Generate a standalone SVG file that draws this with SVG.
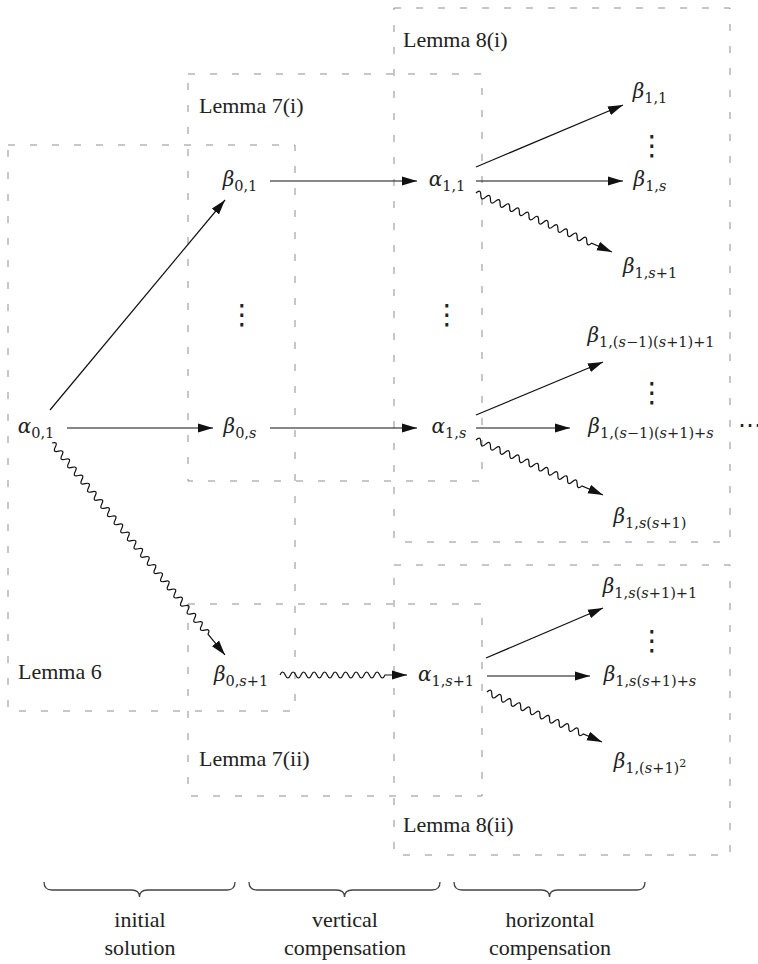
<svg xmlns="http://www.w3.org/2000/svg" width="758" height="964" viewBox="0 0 758 964">
<style>
.box{fill:none;stroke:#8f8f8f;stroke-width:1;stroke-dasharray:7 15}
.lbl{font-family:'Liberation Serif','Times New Roman',serif;font-size:22px;fill:#222}
.m{font-family:'DejaVu Serif',serif;font-size:20px;fill:#222;text-anchor:middle}
.g{font-style:italic}
.sub{font-size:14.5px}
.sup{font-size:11px}
.i{font-style:italic}
.dots{font-family:'DejaVu Sans',sans-serif;font-size:28px;fill:#222;text-anchor:middle}
.hd{font-family:'DejaVu Sans',sans-serif;font-size:24px;fill:#222}
.ar{fill:none;stroke:#111;stroke-width:1.2;marker-end:url(#ah)}
.br{fill:none;stroke:#444;stroke-width:1.3}
.cap{font-family:'Liberation Serif','Times New Roman',serif;font-size:22px;fill:#222;text-anchor:middle}
</style>
<defs>
<marker id="ah" markerWidth="15" markerHeight="10" refX="15" refY="5" orient="auto" markerUnits="userSpaceOnUse"><path d="M0,0.4 L15,5 L0,9.6 Z" fill="#111"/></marker>
</defs>
<rect width="758" height="964" fill="#fff"/>
<g id="boxes">
<g id="box-lemma6"><rect class="box" x="8" y="145" width="287" height="566"/><text class="lbl" x="18" y="679">Lemma 6</text></g>
<g id="box-lemma7i"><rect class="box" x="188" y="74" width="294" height="407"/><text class="lbl" x="199" y="113">Lemma 7(i)</text></g>
<g id="box-lemma7ii"><rect class="box" x="188" y="604" width="294" height="192"/><text class="lbl" x="199" y="766">Lemma 7(ii)</text></g>
<g id="box-lemma8i"><rect class="box" x="394" y="8" width="336" height="534"/><text class="lbl" x="403" y="47">Lemma 8(i)</text></g>
<g id="box-lemma8ii"><rect class="box" x="394" y="565" width="336" height="290"/><text class="lbl" x="403" y="832">Lemma 8(ii)</text></g>
</g>
<g id="connectors">
<path class="ar" d="M50,410 L225,200"/>
<path class="ar" d="M67,428 L213,428"/>
<path class="ar" d="M270,181 L417,181"/>
<path class="ar" d="M270,428 L417,428"/>
<path class="ar" d="M476,167 L623,105"/>
<path class="ar" d="M476,181 L623,181"/>
<path class="ar" d="M476,415 L603,362"/>
<path class="ar" d="M476,428 L570,428"/>
<path class="ar" d="M486,658 L603,608"/>
<path class="ar" d="M487,676 L590,676"/>
<path class="ar" transform="translate(52,443) rotate(50.79)" d="M0,0 q2.625,-6 5.25,0 t5.25,0 t5.25,0 t5.25,0 t5.25,0 t5.25,0 t5.25,0 t5.25,0 t5.25,0 t5.25,0 t5.25,0 t5.25,0 t5.25,0 t5.25,0 t5.25,0 t5.25,0 t5.25,0 t5.25,0 t5.25,0 t5.25,0 t5.25,0 t5.25,0 t5.25,0 t5.25,0 t5.25,0 t5.25,0 t5.25,0 t5.25,0 t5.25,0 t5.25,0 t5.25,0 t5.25,0 t5.25,0 t5.25,0 t5.25,0 t5.25,0 t5.25,0 t5.25,0 t5.25,0 t5.25,0 t5.25,0 t5.25,0 t5.25,0 t5.25,0 t5.25,0 t5.25,0 t5.25,0 L273.6,0"/>
<path class="ar" transform="translate(280,675)" d="M0,0 q2.625,-6 5.25,0 t5.25,0 t5.25,0 t5.25,0 t5.25,0 t5.25,0 t5.25,0 t5.25,0 t5.25,0 t5.25,0 t5.25,0 t5.25,0 t5.25,0 t5.25,0 t5.25,0 t5.25,0 t5.25,0 t5.25,0 t5.25,0 t5.25,0 L127,0"/>
<path class="ar" transform="translate(476,193) rotate(23.45)" d="M0,0 q2.625,-6 5.25,0 t5.25,0 t5.25,0 t5.25,0 t5.25,0 t5.25,0 t5.25,0 t5.25,0 t5.25,0 t5.25,0 t5.25,0 t5.25,0 t5.25,0 t5.25,0 t5.25,0 t5.25,0 t5.25,0 t5.25,0 t5.25,0 t5.25,0 t5.25,0 t5.25,0 t5.25,0 t5.25,0 L148.2,0"/>
<path class="ar" transform="translate(476,440) rotate(23.42)" d="M0,0 q2.625,-6 5.25,0 t5.25,0 t5.25,0 t5.25,0 t5.25,0 t5.25,0 t5.25,0 t5.25,0 t5.25,0 t5.25,0 t5.25,0 t5.25,0 t5.25,0 t5.25,0 t5.25,0 t5.25,0 t5.25,0 t5.25,0 t5.25,0 t5.25,0 t5.25,0 t5.25,0 L138.4,0"/>
<path class="ar" transform="translate(487,692) rotate(23.5)" d="M0,0 q2.625,-6 5.25,0 t5.25,0 t5.25,0 t5.25,0 t5.25,0 t5.25,0 t5.25,0 t5.25,0 t5.25,0 t5.25,0 t5.25,0 t5.25,0 t5.25,0 t5.25,0 t5.25,0 t5.25,0 t5.25,0 t5.25,0 t5.25,0 t5.25,0 L125.4,0"/>
</g>
<g id="nodes">
<g id="n-a01"><text class="m" x="36" y="433"><tspan class="g">α</tspan><tspan class="sub" dy="5">0,1</tspan></text></g>
<g id="n-b01"><text class="m" x="240" y="186"><tspan class="g">β</tspan><tspan class="sub" dy="5">0,1</tspan></text></g>
<g id="n-b0s"><text class="m" x="240" y="433"><tspan class="g">β</tspan><tspan class="sub" dy="5">0,<tspan class="i">s</tspan></tspan></text></g>
<g id="n-b0s1"><text class="m" x="241" y="681"><tspan class="g">β</tspan><tspan class="sub" dy="5">0,<tspan class="i">s</tspan>+1</tspan></text></g>
<g id="n-a11"><text class="m" x="447" y="186"><tspan class="g">α</tspan><tspan class="sub" dy="5">1,1</tspan></text></g>
<g id="n-a1s"><text class="m" x="449" y="433"><tspan class="g">α</tspan><tspan class="sub" dy="5">1,<tspan class="i">s</tspan></tspan></text></g>
<g id="n-a1s1"><text class="m" x="446" y="681"><tspan class="g">α</tspan><tspan class="sub" dy="5">1,<tspan class="i">s</tspan>+1</tspan></text></g>
<g id="n-b11"><text class="m" x="650" y="98"><tspan class="g">β</tspan><tspan class="sub" dy="5">1,1</tspan></text></g>
<g id="n-b1s"><text class="m" x="650" y="186"><tspan class="g">β</tspan><tspan class="sub" dy="5">1,<tspan class="i">s</tspan></tspan></text></g>
<g id="n-b1s1"><text class="m" x="650" y="273"><tspan class="g">β</tspan><tspan class="sub" dy="5">1,<tspan class="i">s</tspan>+1</tspan></text></g>
<g id="n-b1a"><text class="m" x="651" y="342"><tspan class="g">β</tspan><tspan class="sub" dy="5">1,(<tspan class="i">s</tspan>−1)(<tspan class="i">s</tspan>+1)+1</tspan></text></g>
<g id="n-b1b"><text class="m" x="651" y="433"><tspan class="g">β</tspan><tspan class="sub" dy="5">1,(<tspan class="i">s</tspan>−1)(<tspan class="i">s</tspan>+1)+<tspan class="i">s</tspan></tspan></text></g>
<g id="n-b1c"><text class="m" x="650" y="523"><tspan class="g">β</tspan><tspan class="sub" dy="5">1,<tspan class="i">s</tspan>(<tspan class="i">s</tspan>+1)</tspan></text></g>
<g id="n-b1d"><text class="m" x="650" y="593"><tspan class="g">β</tspan><tspan class="sub" dy="5">1,<tspan class="i">s</tspan>(<tspan class="i">s</tspan>+1)+1</tspan></text></g>
<g id="n-b1e"><text class="m" x="650" y="681"><tspan class="g">β</tspan><tspan class="sub" dy="5">1,<tspan class="i">s</tspan>(<tspan class="i">s</tspan>+1)+<tspan class="i">s</tspan></tspan></text></g>
<g id="n-b1f"><text class="m" x="650" y="768"><tspan class="g">β</tspan><tspan class="sub" dy="5">1,(<tspan class="i">s</tspan>+1)<tspan class="sup" dy="-6">2</tspan></tspan></text></g>
</g>
<g id="vdots">
<text class="dots" x="242" y="324">⋮</text>
<text class="dots" x="447" y="324">⋮</text>
<text class="dots" x="652" y="155">⋮</text>
<text class="dots" x="652" y="402">⋮</text>
<text class="dots" x="652" y="650">⋮</text>
<text class="hd" x="738" y="433">⋯</text>
</g>
<g id="braces">
<path class="br" d="M44,882 Q44,890 52,890 L131.5,890 Q139.5,890 139.5,897 Q139.5,890 147.5,890 L227,890 Q235,890 235,882"/>
<path class="br" d="M249,882 Q249,890 257,890 L336.5,890 Q344.5,890 344.5,897 Q344.5,890 352.5,890 L432,890 Q440,890 440,882"/>
<path class="br" d="M454,882 Q454,890 462,890 L541.5,890 Q549.5,890 549.5,897 Q549.5,890 557.5,890 L637,890 Q645,890 645,882"/>
<text class="cap" x="140" y="927">initial</text>
<text class="cap" x="140" y="955">solution</text>
<text class="cap" x="345" y="927">vertical</text>
<text class="cap" x="345" y="955">compensation</text>
<text class="cap" x="550" y="927">horizontal</text>
<text class="cap" x="550" y="955">compensation</text>
</g>
</svg>
